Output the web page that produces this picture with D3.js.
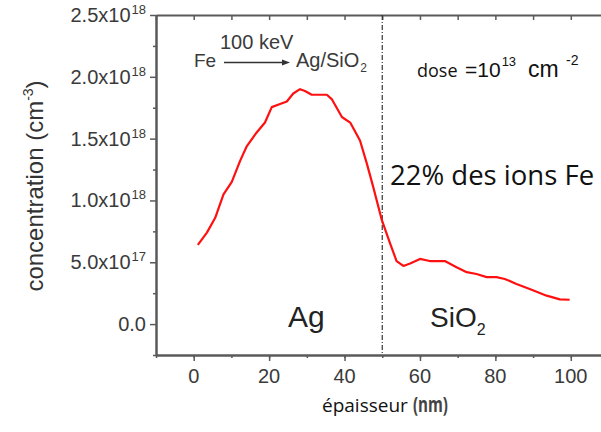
<!DOCTYPE html>
<html>
<head>
<meta charset="utf-8">
<script src="https://cdn.jsdelivr.net/npm/d3@7"></script>
<style>
  html, body { margin: 0; padding: 0; background: #fff; }
  svg { display: block; }
</style>
</head>
<body>
<svg id="chart" width="601" height="432"></svg>
<script>
// ---- data ----
const depthNm = [1.1, 3.5, 5.7, 7.9, 10.1, 12.3, 14.1, 16.7, 18.9, 20.7, 22.9, 24.7, 26.4, 28.2, 29.5, 31.3, 35.3, 36.6, 39.3, 41.5, 44.1, 45.9, 47.6, 49.9, 52.1, 53.8, 55.6, 57.4, 60, 62.6, 66.6, 69.7, 72.4, 75, 77.7, 80.3, 82.5, 85.6, 89.1, 93.6, 97.1, 99.7];
// concentration in units of 1e18 cm^-3
const concentration = [0.64, 0.74, 0.86, 1.05, 1.15, 1.32, 1.44, 1.55, 1.63, 1.755, 1.78, 1.80, 1.865, 1.90, 1.885, 1.855, 1.855, 1.82, 1.675, 1.63, 1.485, 1.30, 1.11, 0.84, 0.65, 0.51, 0.47, 0.49, 0.527, 0.51, 0.51, 0.46, 0.42, 0.405, 0.38, 0.38, 0.365, 0.325, 0.284, 0.23, 0.20, 0.197];
const xTickValues = [0, 20, 40, 60, 80, 100];
const xMinorTicks = [-10, 0, 10, 20, 30, 40, 50, 60, 70, 80, 90, 100, 110];
const yTickValues = [0, 0.5, 1.0, 1.5, 2.0, 2.5];
const yTickMantissa = ["0.0", "5.0x10", "1.0x10", "1.5x10", "2.0x10", "2.5x10"];
const yTickExponent = ["", "17", "18", "18", "18", "18"];
const yMinorTicks = [-0.25, 0.25, 0.75, 1.25, 1.75, 2.25];
const interfaceDepth = 50;

// ---- scales ----
const svg = d3.select("#chart");
const x = d3.scaleLinear().domain([-10, 110]).range([156, 608.5]);
const y = d3.scaleLinear().domain([-0.25, 2.5]).range([355, 15]);

const axisColor = "#5a5a5a";
const textColor = "#3a3a3a";
const arial = "'Liberation Sans', Arial, sans-serif";
const myriad = "'Open Sans', 'Noto Sans', sans-serif";

svg.append("rect").attr("width", 601).attr("height", 432).attr("fill", "#fff");

function styleAxis(g) {
  g.select(".domain").attr("stroke", axisColor).attr("stroke-width", 2);
  g.selectAll(".tick line").attr("stroke", axisColor).attr("stroke-width", 1.5);
  g.selectAll(".tick text").remove();
}

// bottom axis: minor + major ticks
svg.append("g").attr("transform", `translate(0,${y(-0.25)})`)
  .call(d3.axisBottom(x).tickValues(xMinorTicks).tickSize(3).tickSizeOuter(0).tickFormat(""))
  .call(styleAxis);
svg.append("g").attr("transform", `translate(0,${y(-0.25)})`)
  .call(d3.axisBottom(x).tickValues(xTickValues).tickSize(6).tickSizeOuter(0).tickFormat(""))
  .call(styleAxis);
// top axis: inward ticks
svg.append("g").attr("transform", `translate(0,${y(2.5)})`)
  .call(d3.axisBottom(x).tickValues(xMinorTicks).tickSize(5).tickSizeOuter(0).tickFormat(""))
  .call(styleAxis);
// left axis
svg.append("g").attr("transform", `translate(${x(-10)},0)`)
  .call(d3.axisLeft(y).tickValues(yMinorTicks).tickSize(3).tickSizeOuter(0).tickFormat(""))
  .call(styleAxis);
svg.append("g").attr("transform", `translate(${x(-10)},0)`)
  .call(d3.axisLeft(y).tickValues(yTickValues).tickSize(6).tickSizeOuter(0).tickFormat(""))
  .call(styleAxis);

// x tick labels
svg.append("g").selectAll("text").data(xTickValues).join("text")
  .attr("x", d => x(d)).attr("y", 383)
  .attr("text-anchor", "middle")
  .attr("font-family", arial).attr("font-size", 20).attr("fill", textColor)
  .text(d => d);

// y tick labels
const yl = svg.append("g").selectAll("text").data(yTickValues).join("text")
  .attr("x", 146).attr("y", d => y(d) + 7)
  .attr("text-anchor", "end")
  .attr("font-family", arial).attr("font-size", 20).attr("fill", textColor);
yl.append("tspan").text((d, i) => yTickMantissa[i]);
yl.append("tspan").attr("dx", 1).attr("dy", -8).attr("font-size", 13).text((d, i) => yTickExponent[i]);

// y axis title
const yt = svg.append("text")
  .attr("transform", "translate(43,186) rotate(-90)")
  .attr("text-anchor", "middle")
  .attr("font-family", arial).attr("font-size", 24).attr("fill", "#333");
yt.append("tspan").text("concentration (cm");
yt.append("tspan").attr("dy", -10).attr("font-size", 14).text("-3");
yt.append("tspan").attr("dy", 10).text(")");

// x axis title
svg.append("text").attr("x", 322).attr("y", 412)
  .attr("font-family", myriad).attr("font-size", 19).attr("fill", "#111").text("épaisseur");
svg.append("text").attr("x", 413).attr("y", 412)
  .attr("font-family", myriad).attr("font-weight", 700).attr("fill", "#444")
  .attr("font-size", 22).attr("textLength", 35).attr("lengthAdjust", "spacingAndGlyphs").text("(nm)");

// interface line
svg.append("line")
  .attr("x1", x(interfaceDepth)).attr("x2", x(interfaceDepth))
  .attr("y1", y(2.5)).attr("y2", y(-0.25))
  .attr("stroke", "#333").attr("stroke-width", 1.2)
  .attr("stroke-dasharray", "5,2,1,2");

// profile curve
const line = d3.line().x(d => x(d[0])).y(d => y(d[1]));
svg.append("path")
  .datum(depthNm.map((d, i) => [d, concentration[i]]))
  .attr("d", line)
  .attr("fill", "none").attr("stroke", "#ff1010").attr("stroke-width", 2.2)
  .attr("stroke-linejoin", "round");

// annotation: Fe -> Ag/SiO2
svg.append("text").attr("x", 194).attr("y", 67).attr("font-family", arial).attr("font-size", 19).attr("fill", textColor).text("Fe");
svg.append("text").attr("x", 220).attr("y", 49).attr("font-family", arial).attr("font-size", 20).attr("fill", textColor).text("100 keV");
svg.append("line").attr("x1", 224).attr("x2", 284).attr("y1", 62.5).attr("y2", 62.5).attr("stroke", "#333").attr("stroke-width", 1.3);
svg.append("path").attr("d", "M282,59.5 L290,62.5 L282,65.5 Z").attr("fill", "#333");
const agsi = svg.append("text").attr("x", 296).attr("y", 67).attr("font-family", arial).attr("font-size", 20).attr("fill", textColor);
agsi.append("tspan").text("Ag/SiO");
agsi.append("tspan").attr("dx", 1).attr("dy", 5).attr("font-size", 12).text("2");

// dose
svg.append("text").attr("x", 417).attr("y", 77).attr("font-family", myriad).attr("font-size", 18).attr("fill", "#111").text("dose");
const dose = svg.append("text").attr("x", 465).attr("y", 77).attr("font-family", arial).attr("font-size", 21).attr("fill", "#111");
dose.append("tspan").text("=10");
dose.append("tspan").attr("dx", 1).attr("dy", -11).attr("font-size", 13).text("13");
dose.append("tspan").attr("x", 528).attr("dy", 11).attr("font-size", 23).text("cm");
dose.append("tspan").attr("x", 566).attr("dy", -12).attr("font-size", 14).text("-2");

// 22% text
svg.append("text").attr("x", 390).attr("y", 185).attr("font-family", myriad).attr("font-size", 27.5).attr("fill", "#111").text("22% des ions Fe");

// layer labels
svg.append("text").attr("x", 288).attr("y", 327).attr("font-family", arial).attr("font-size", 30).attr("fill", "#222").text("Ag");
const si = svg.append("text").attr("x", 430).attr("y", 327).attr("font-family", arial).attr("font-size", 28).attr("fill", "#222");
si.append("tspan").text("SiO");
si.append("tspan").attr("dy", 8).attr("font-size", 16).text("2");
</script>
</body>
</html>
